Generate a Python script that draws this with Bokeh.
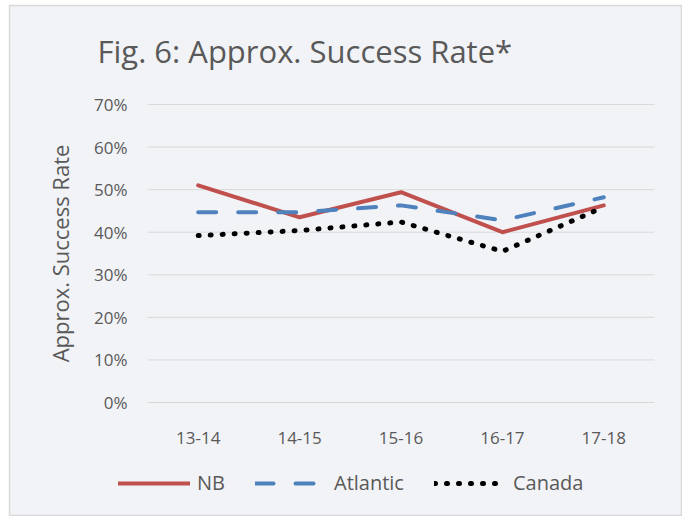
from bokeh.plotting import figure
from bokeh.models import NumeralTickFormatter, Legend, LegendItem, FixedTicker, Label, Range1d
from bokeh.embed import file_html
from bokeh.resources import INLINE

years = ["13-14", "14-15", "15-16", "16-17", "17-18"]
nb = [0.510, 0.435, 0.494, 0.400, 0.463]
atlantic = [0.447, 0.447, 0.463, 0.428, 0.482]
canada = [0.392, 0.404, 0.424, 0.355, 0.459]
y_ticks = [0, 0.1, 0.2, 0.3, 0.4, 0.5, 0.6, 0.7]

BG = "#F2F3F7"
TXT = "#595959"
W, H = 682, 516
FL, FT, FR = 9, 5, 681          # chart box edges (pixels)
# plot-area placement (pixels) used to derive the ranges
L, R, T, B = 147, 654, 104, 402

n = len(years)
xs = list(range(n))
x_lo, x_hi = -0.5, n - 0.5
ppx = (R - L) / (x_hi - x_lo)
y_lo, y_hi = y_ticks[0], y_ticks[-1]
ppy = (B - T) / (y_hi - y_lo)

p = figure(width=W, height=H, output_backend="svg", toolbar_location=None,
           x_range=Range1d(x_lo - (L - FL) / ppx, x_hi + (FR - R) / ppx),
           y_range=Range1d(y_lo - (H - B) / ppy, y_hi + (T - FT) / ppy),
           background_fill_color=BG, border_fill_color="white",
           min_border_left=FL, min_border_top=FT, min_border_right=W - FR,
           min_border_bottom=0)
p.outline_line_color = "#D9D9D9"
p.outline_line_width = 1.5
p.xgrid.grid_line_color = None
p.ygrid.grid_line_color = None

# horizontal gridlines across the plot area
p.segment(x0=[x_lo] * len(y_ticks), x1=[x_hi] * len(y_ticks), y0=y_ticks, y1=y_ticks,
          line_color="#D9D9D9", line_width=1)

p.yaxis.fixed_location = x_lo
p.xaxis.fixed_location = y_lo
p.yaxis.bounds = (y_lo, y_hi)
p.xaxis.bounds = (x_lo, x_hi)
p.yaxis.ticker = FixedTicker(ticks=y_ticks)
p.yaxis.formatter = NumeralTickFormatter(format="0%")
p.xaxis.ticker = FixedTicker(ticks=xs)
p.xaxis.major_label_overrides = {i: y for i, y in zip(xs, years)}
p.yaxis.axis_label = "Approx. Success Rate"
p.yaxis.axis_label_text_font = "Open Sans"
p.yaxis.axis_label_text_font_style = "normal"
p.yaxis.axis_label_text_font_size = "22px"
p.yaxis.axis_label_text_color = TXT
p.yaxis.axis_label_standoff = 16
p.yaxis.major_label_standoff = 14

for ax in (p.xaxis, p.yaxis):
    ax.axis_line_color = None
    ax.major_tick_line_color = None
    ax.minor_tick_line_color = None
    ax.major_label_text_font = "Open Sans"
    ax.major_label_text_font_size = "17px"
    ax.major_label_text_color = TXT
p.xaxis.major_label_standoff = 23

r_nb = p.line(xs, nb, line_color="#C0504D", line_width=4, line_cap="round", line_join="round")
r_at = p.line(xs, atlantic, line_color="#4F81BD", line_width=4, line_cap="round",
              line_join="round", line_dash="18 22")
r_ca = p.line(xs, canada, line_color="#000000", line_width=5, line_cap="round",
              line_join="round", line_dash="1 11")

title = Label(x=97 - FL, y=H - 50, x_units="screen", y_units="screen",
              text="Fig. 6: Approx. Success Rate*", text_font="Open Sans",
              text_font_size="31px", text_color=TXT, text_align="left",
              text_baseline="middle")
p.add_layout(title)

legend = Legend(items=[LegendItem(label="NB", renderers=[r_nb]),
                       LegendItem(label="Atlantic", renderers=[r_at]),
                       LegendItem(label="Canada", renderers=[r_ca])],
                orientation="horizontal", location=(118 - FL, 20))
legend.background_fill_alpha = 0
legend.border_line_color = None
legend.padding = 0
legend.margin = 0
legend.spacing = 30
legend.glyph_width = 72
legend.glyph_height = 18
legend.label_standoff = 7
legend.label_text_font = "Open Sans"
legend.label_text_font_size = "20px"
legend.label_text_color = TXT
p.add_layout(legend, "center")

open("out.html", "w").write(file_html(p, INLINE))
